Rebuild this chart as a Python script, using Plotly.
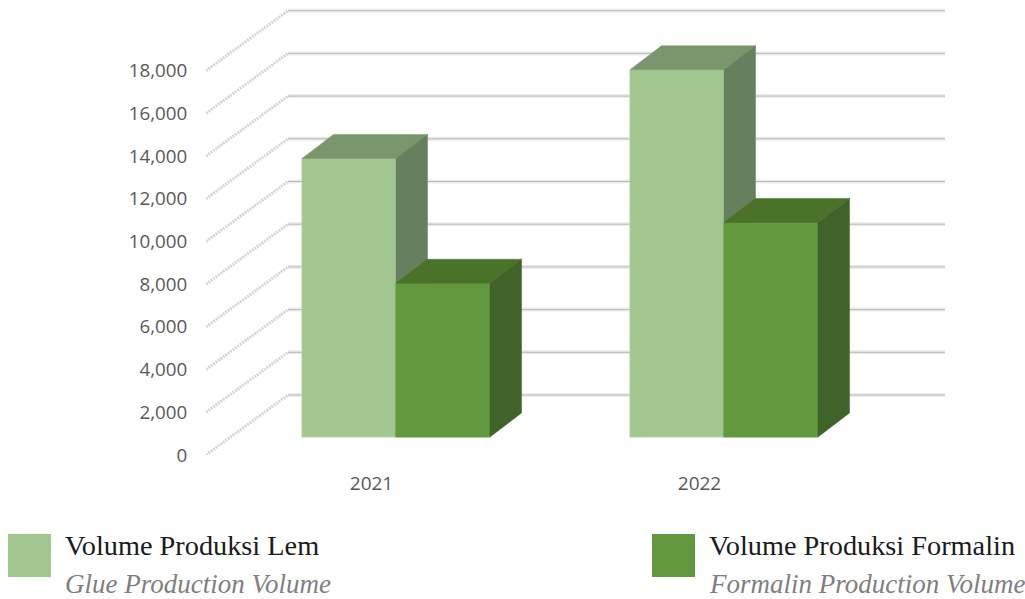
import plotly.graph_objects as go

# ---- data ----
years = ["2021", "2022"]
lem = [13050, 17200]
formalin = [7200, 10050]
y_ticks = [0, 2000, 4000, 6000, 8000, 10000, 12000, 14000, 16000, 18000]
y_labels = ["0", "2,000", "4,000", "6,000", "8,000", "10,000", "12,000", "14,000", "16,000", "18,000"]
lem_names = ["Volume Produksi Lem", "Glue Production Volume"]
formalin_names = ["Volume Produksi Formalin", "Formalin Production Volume"]

# ---- look ----
W, H = 1025, 599
LEFT, RIGHT, BOTTOM = 206, 945, 455
CAT_PX = 328.0
CAT0_PX = 396.0
PX_PER_UNIT = 42.7 / 2000
px_x = lambda p: p / CAT_PX
px_y = lambda p: p / PX_PER_UNIT

xr = [px_x(LEFT - CAT0_PX), px_x(RIGHT - CAT0_PX)]
yr = [0, px_y(BOTTOM)]
xs = list(range(len(years)))

bar_w = px_x(94)
base = px_y(18)
dx, dy = px_x(31.5), px_y(24)
wall_dx, wall_dy = px_x(82), px_y(60)
tick_shift = px_x(-24.5)

C = dict(
    lem=("#A2C68F", "#7A966C", "#667F5C"),
    formalin=("#62993E", "#4A7229", "#3F6328"),
)


def faces(x, val, x0, x1, color, xa, ya):
    top = base + val
    out = [
        go.Scatter(x=[x0, x1, x1 + dx, x0 + dx, x0], y=[top, top, top + dy, top + dy, top],
                   fill="toself", fillcolor=color[1], mode="lines",
                   line=dict(color=color[1], width=0.5), hoverinfo="skip", showlegend=False, xaxis=xa, yaxis=ya),
        go.Scatter(x=[x1, x1 + dx, x1 + dx, x1, x1], y=[base, base + dy, top + dy, top, base],
                   fill="toself", fillcolor=color[2], mode="lines",
                   line=dict(color=color[2], width=0.5), hoverinfo="skip", showlegend=False, xaxis=xa, yaxis=ya),
    ]
    return out


fig = go.Figure()
fig.add_trace(go.Bar(x=xs, y=lem, base=base, width=bar_w, offset=-bar_w, marker=dict(color=C["lem"][0], line=dict(color="#B4D1A4", width=1)),
                     name=lem_names[0], showlegend=False, xaxis="x", yaxis="y"))
for x, v in zip(xs, lem):
    for t in faces(x, v, x - bar_w, x, C["lem"], "x", "y"):
        fig.add_trace(t)
fig.add_trace(go.Bar(x=xs, y=formalin, base=base, width=bar_w, offset=0, marker=dict(color=C["formalin"][0], line=dict(color="#62993E", width=1)),
                     name=formalin_names[0], showlegend=False, xaxis="x2", yaxis="y2"))
for x, v in zip(xs, formalin):
    for t in faces(x, v, x, x + bar_w, C["formalin"], "x2", "y2"):
        fig.add_trace(t)

# walls drawn from the tick values
shapes = []
for t in y_ticks:
    wy = t + wall_dy
    x_wall = xr[0] + wall_dx
    shapes.append(dict(type="line", xref="x", yref="y", x0=x_wall, x1=xr[1], y0=wy, y1=wy,
                       line=dict(color="#EBEBEB", width=4), layer="below"))
    shapes.append(dict(type="line", xref="x", yref="y", x0=x_wall, x1=xr[1], y0=wy, y1=wy,
                       line=dict(color="#BABABA", width=1), layer="below"))
    shapes.append(dict(type="line", xref="x", yref="y", x0=xr[0], x1=x_wall, y0=t, y1=wy,
                       line=dict(color="#D6D6D6", width=3, dash="2px,1px"), layer="below"))


paper_x = lambda p: (p - LEFT) / (RIGHT - LEFT)
paper_y = lambda p: (BOTTOM - p) / BOTTOM
for x0, c in ((8, C["lem"][0]), (652, C["formalin"][0])):
    shapes.append(dict(type="rect", xref="paper", yref="paper", x0=paper_x(x0), x1=paper_x(x0 + 43),
                       y0=paper_y(577), y1=paper_y(534), fillcolor=c, line=dict(width=0)))

annotations = []
for x0, names in ((66, lem_names), (710, formalin_names)):
    annotations.append(dict(xref="paper", yref="paper", x=paper_x(x0), y=paper_y(545), text=names[0],
                            showarrow=False, xanchor="left", yanchor="middle", xshift=-3,
                            font=dict(family="Liberation Serif", size=28.3, color="#1A1A1A")))
    annotations.append(dict(xref="paper", yref="paper", x=paper_x(x0), y=paper_y(584), text="<i>%s</i>" % names[1],
                            showarrow=False, xanchor="left", yanchor="middle", xshift=-3,
                            font=dict(family="Liberation Serif", size=27, color="#7F7F7F")))

tick_font = dict(family="Open Sans", size=18.8, color="#595959")
fig.update_layout(
    width=W, height=H, plot_bgcolor="white", paper_bgcolor="white", showlegend=False,
    margin=dict(l=LEFT, r=W - RIGHT, t=0, b=H - BOTTOM, autoexpand=False),
    shapes=shapes, annotations=annotations, barmode="overlay",
    xaxis=dict(range=xr, tickvals=[x + tick_shift for x in xs], ticktext=years, showgrid=False, zeroline=False,
               showline=False, ticks="outside", ticklen=11, tickcolor="rgba(0,0,0,0)",
               tickfont=dict(family="Open Sans", size=19, color="#595959")),
    yaxis=dict(range=yr, tickvals=y_ticks, ticktext=y_labels, showgrid=False, zeroline=False, showline=False,
               ticks="outside", ticklen=14, tickcolor="rgba(0,0,0,0)", tickfont=tick_font),
    xaxis2=dict(range=xr, overlaying="x", visible=False),
    yaxis2=dict(range=yr, overlaying="y", visible=False),
)
fig.write_html("out.html", config={"displayModeBar": False},
               post_script="document.body.style.margin='0';document.documentElement.style.overflow='hidden';")
